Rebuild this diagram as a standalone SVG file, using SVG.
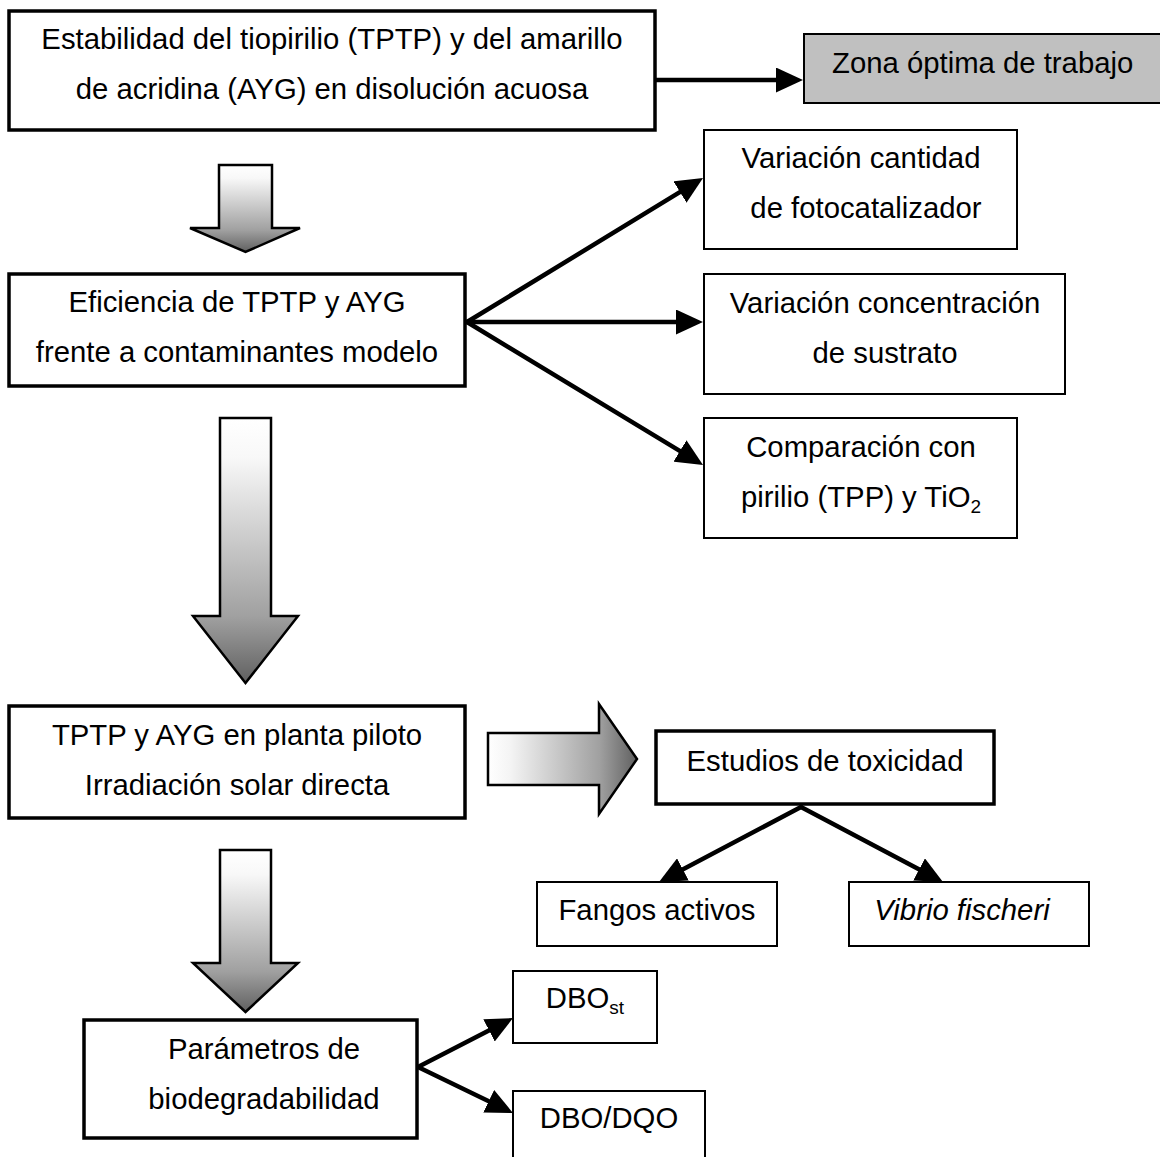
<svg xmlns="http://www.w3.org/2000/svg" width="1160" height="1157" viewBox="0 0 1160 1157">
  <style>
    text { font-family: "Liberation Sans", Arial, sans-serif; font-size: 29.3px; fill: #000; }
    .mid { text-anchor: middle; }
    .thick { fill: #fff; stroke: #000; stroke-width: 3.5; }
    .thin { fill: #fff; stroke: #000; stroke-width: 2; }
    .grey { fill: #c0c0c0; stroke: #000; stroke-width: 2; }
    .conn { stroke: #000; stroke-width: 4.5; fill: none; stroke-linecap: round; marker-end: url(#head); }
    .block { stroke: #000; stroke-width: 2.5; stroke-linejoin: miter; }
    .sub { font-size: 19px; }
  </style>
  <defs>
    <marker id="head" viewBox="0 0 27 25" markerWidth="27" markerHeight="25" markerUnits="userSpaceOnUse" refX="19" refY="12.5" orient="auto">
      <path d="M0,0 L27,12.5 L0,25 z" fill="#000"/>
    </marker>
    <linearGradient id="gradDown" x1="0" y1="0" x2="0" y2="1">
      <stop offset="0" stop-color="#ffffff"/>
      <stop offset="0.15" stop-color="#f8f8f8"/>
      <stop offset="0.75" stop-color="#a0a0a0"/>
      <stop offset="1" stop-color="#606060"/>
    </linearGradient>
    <linearGradient id="gradRight" x1="0" y1="0" x2="1" y2="0">
      <stop offset="0" stop-color="#ffffff"/>
      <stop offset="0.15" stop-color="#f4f4f4"/>
      <stop offset="0.75" stop-color="#a0a0a0"/>
      <stop offset="1" stop-color="#606060"/>
    </linearGradient>
  </defs>

  <!-- connectors -->
  <g id="connectors">
    <line class="conn" x1="655" y1="80" x2="795" y2="80"/>
    <line class="conn" x1="467" y1="322" x2="696.2" y2="182.2"/>
    <line class="conn" x1="467" y1="322" x2="695" y2="322"/>
    <line class="conn" x1="467" y1="322" x2="696.2" y2="460.9"/>
    <line class="conn" x1="801" y1="807" x2="666.1" y2="878.3"/>
    <line class="conn" x1="801" y1="807" x2="935.9" y2="878.3"/>
    <line class="conn" x1="418" y1="1067" x2="505.9" y2="1021.7"/>
    <line class="conn" x1="418" y1="1067" x2="505.8" y2="1109.5"/>
    <!-- block arrows -->
    <polygon class="block" fill="url(#gradDown)" points="219,165 272,165 272,228 300,228 245.5,252 190,228 219,228"/>
    <polygon class="block" fill="url(#gradDown)" points="220,418 271,418 271,616 298,616 245.5,683 193,616 220,616"/>
    <polygon class="block" fill="url(#gradDown)" points="220,850 271,850 271,963 298,963 245.5,1012 193,963 220,963"/>
    <polygon class="block" fill="url(#gradRight)" points="488,733 599,733 599,704 637,759 599,814 599,785 488,785"/>
  </g>

  <g id="estabilidad">
    <rect class="thick" x="9" y="11" width="646" height="119"/>
    <text class="mid" x="332" y="49">Estabilidad del tiopirilio (TPTP) y del amarillo</text>
    <text class="mid" x="332" y="99">de acridina (AYG) en disolución acuosa</text>
  </g>

  <g id="zona">
    <rect class="grey" x="804" y="34" width="360" height="69"/>
    <text x="832" y="73">Zona óptima de trabajo</text>
  </g>

  <g id="eficiencia">
    <rect class="thick" x="9" y="274" width="456" height="112"/>
    <text class="mid" x="237" y="312">Eficiencia de TPTP y AYG</text>
    <text class="mid" x="237" y="362">frente a contaminantes modelo</text>
  </g>

  <g id="cantidad">
    <rect class="thin" x="704" y="130" width="313" height="119"/>
    <text class="mid" x="861" y="168">Variación cantidad</text>
    <text class="mid" x="866" y="218">de fotocatalizador</text>
  </g>

  <g id="concentracion">
    <rect class="thin" x="704" y="274" width="361" height="120"/>
    <text class="mid" x="885" y="313">Variación concentración</text>
    <text class="mid" x="885" y="363">de sustrato</text>
  </g>

  <g id="comparacion">
    <rect class="thin" x="704" y="418" width="313" height="120"/>
    <text class="mid" x="861" y="457">Comparación con</text>
    <text class="mid" x="861" y="507">pirilio (TPP) y TiO<tspan class="sub" dy="6">2</tspan></text>
  </g>

  <g id="planta">
    <rect class="thick" x="9" y="706" width="456" height="112"/>
    <text class="mid" x="237" y="745">TPTP y AYG en planta piloto</text>
    <text class="mid" x="237" y="795">Irradiación solar directa</text>
  </g>

  <g id="toxicidad">
    <rect class="thick" x="656" y="731" width="338" height="73"/>
    <text class="mid" x="825" y="771">Estudios de toxicidad</text>
  </g>

  <g id="fangos">
    <rect class="thin" x="537" y="882" width="240" height="64"/>
    <text class="mid" x="657" y="920">Fangos activos</text>
  </g>

  <g id="vibrio">
    <rect class="thin" x="849" y="882" width="240" height="64"/>
    <text class="mid" x="962" y="920" font-style="italic">Vibrio fischeri</text>
  </g>

  <g id="parametros">
    <rect class="thick" x="84" y="1020" width="333" height="118"/>
    <text class="mid" x="264" y="1059">Parámetros de</text>
    <text class="mid" x="264" y="1109">biodegradabilidad</text>
  </g>

  <g id="dbost">
    <rect class="thin" x="513" y="971" width="144" height="72"/>
    <text class="mid" x="585" y="1008">DBO<tspan class="sub" dy="6">st</tspan></text>
  </g>

  <g id="dbodqo">
    <rect class="thin" x="513" y="1091" width="192" height="80"/>
    <text class="mid" x="609" y="1128">DBO/DQO</text>
  </g>
</svg>
